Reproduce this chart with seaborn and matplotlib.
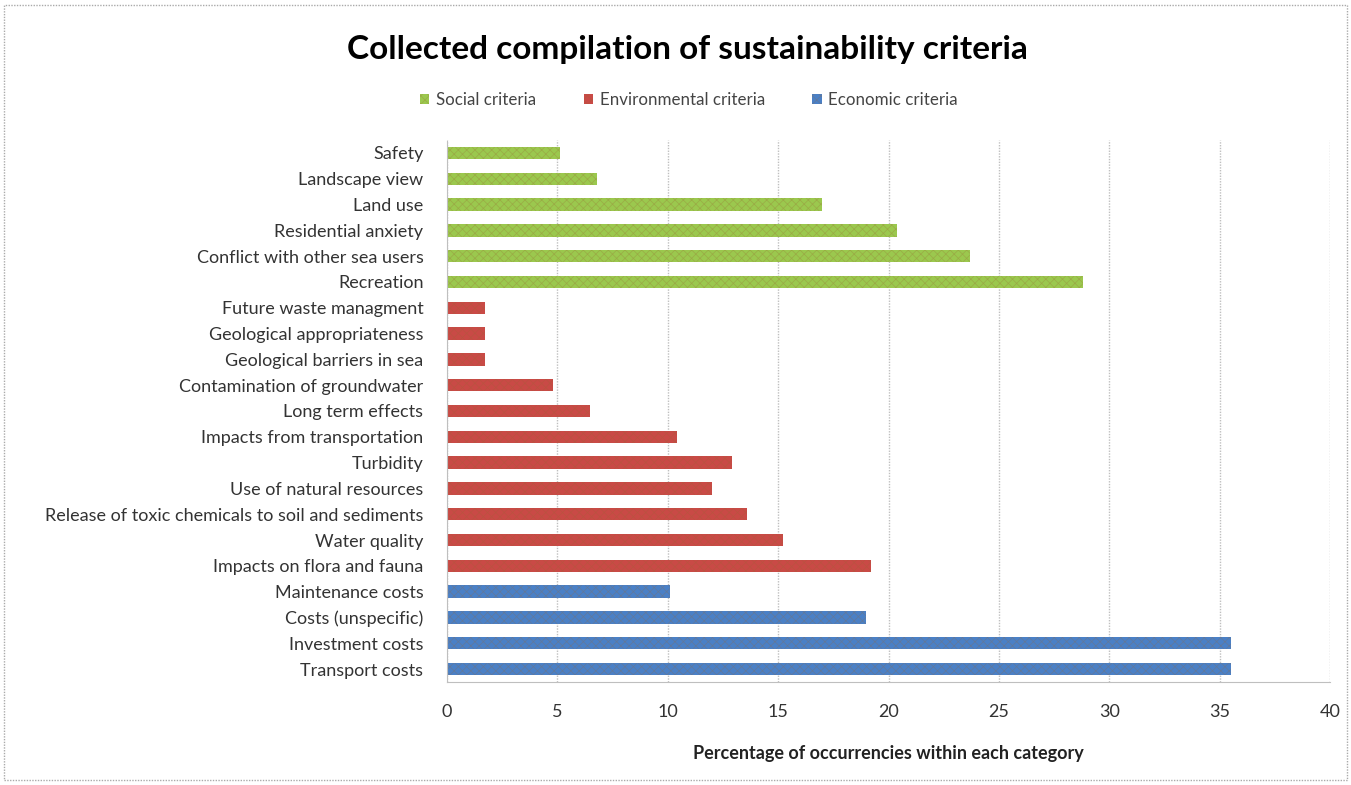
import matplotlib.pyplot as plt
import seaborn as sns
import pandas as pd
from matplotlib.patches import Rectangle

criteria = ["Safety", "Landscape view", "Land use", "Residential anxiety",
            "Conflict with other sea users", "Recreation",
            "Future waste managment", "Geological appropriateness",
            "Geological barriers in sea", "Contamination of groundwater",
            "Long term effects", "Impacts from transportation", "Turbidity",
            "Use of natural resources",
            "Release of toxic chemicals to soil and sediments",
            "Water quality", "Impacts on flora and fauna",
            "Maintenance costs", "Costs (unspecific)", "Investment costs",
            "Transport costs"]
values = [5.1, 6.8, 17.0, 20.4, 23.7, 28.8,
          1.7, 1.7, 1.7, 4.8, 6.5, 10.4, 12.9, 12.0, 13.6, 15.2, 19.2,
          10.1, 19.0, 35.5, 35.5]
groups = ["Social criteria"] * 6 + ["Environmental criteria"] * 11 + ["Economic criteria"] * 4
palette = {"Social criteria": "#9BC84E",
           "Environmental criteria": "#C94A46",
           "Economic criteria": "#4A80C6"}

df = pd.DataFrame({"criterion": criteria, "value": values, "group": groups})

sns.set_style("white")
plt.rcParams['font.family'] = ['Lato', 'DejaVu Sans']
plt.rcParams['hatch.linewidth'] = 0.5

fig = plt.figure(figsize=(13.51, 7.85), dpi=100)
ax = fig.add_axes([447 / 1351, 1 - 682 / 785, (1330 - 447) / 1351, (682 - 140) / 785])

sns.barplot(data=df, x="value", y="criterion", hue="group", palette=palette,
            dodge=False, width=0.48, saturation=1, ax=ax, legend=False)
for bar in ax.patches:
    bar.set_hatch("xxxx")
    bar.set_edgecolor((0.6, 0.4, 0.2, 0.3))
    bar.set_linewidth(0)

ax.set_xlim(0, 40)
ax.set_xticks(range(0, 41, 5))
ax.set_ylim(len(criteria) - 0.5, -0.5)
ax.grid(axis="x", color="#BFBFBF", linestyle=(0, (1, 1)), linewidth=1)
ax.set_axisbelow(True)
for s in ["top", "right"]:
    ax.spines[s].set_visible(False)
ax.spines["left"].set_color("#BFBFBF")
ax.spines["bottom"].set_color("#BFBFBF")
ax.spines["left"].set_linestyle((0, (1, 1)))
ax.spines["bottom"].set_linestyle((0, (1, 1)))
ax.tick_params(axis="both", labelsize=13, colors="#333333", length=0)
ax.tick_params(axis="y", pad=17)
ax.tick_params(axis="x", pad=16)
ax.set_ylabel("")
ax.set_xlabel("Percentage of occurrencies within each category",
              fontsize=13, fontweight="bold", labelpad=18, color="#222222")

fig.text(0.509, 0.937, "Collected compilation of sustainability criteria",
         ha="center", va="center", fontsize=24, fontweight="bold", color="black")

handles = [Rectangle((0, 0), 1, 1, facecolor=palette[g], hatch="xxxx",
                     edgecolor=(0.6, 0.4, 0.2, 0.3), linewidth=0) for g in palette]
fig.legend(handles, list(palette), loc="center", bbox_to_anchor=(0.510, 0.873),
           ncol=3, frameon=False, fontsize=12.2, handlelength=0.55,
           handleheight=0.55, handletextpad=0.4, columnspacing=2.8,
           labelcolor="#444444")

border = Rectangle((0.003, 0.006), 0.994, 0.988, transform=fig.transFigure,
                   fill=False, edgecolor="#AAAAAA", linestyle=(0, (1, 1)),
                   linewidth=1)
fig.patches.append(border)

fig.savefig("out.png", dpi=100)
